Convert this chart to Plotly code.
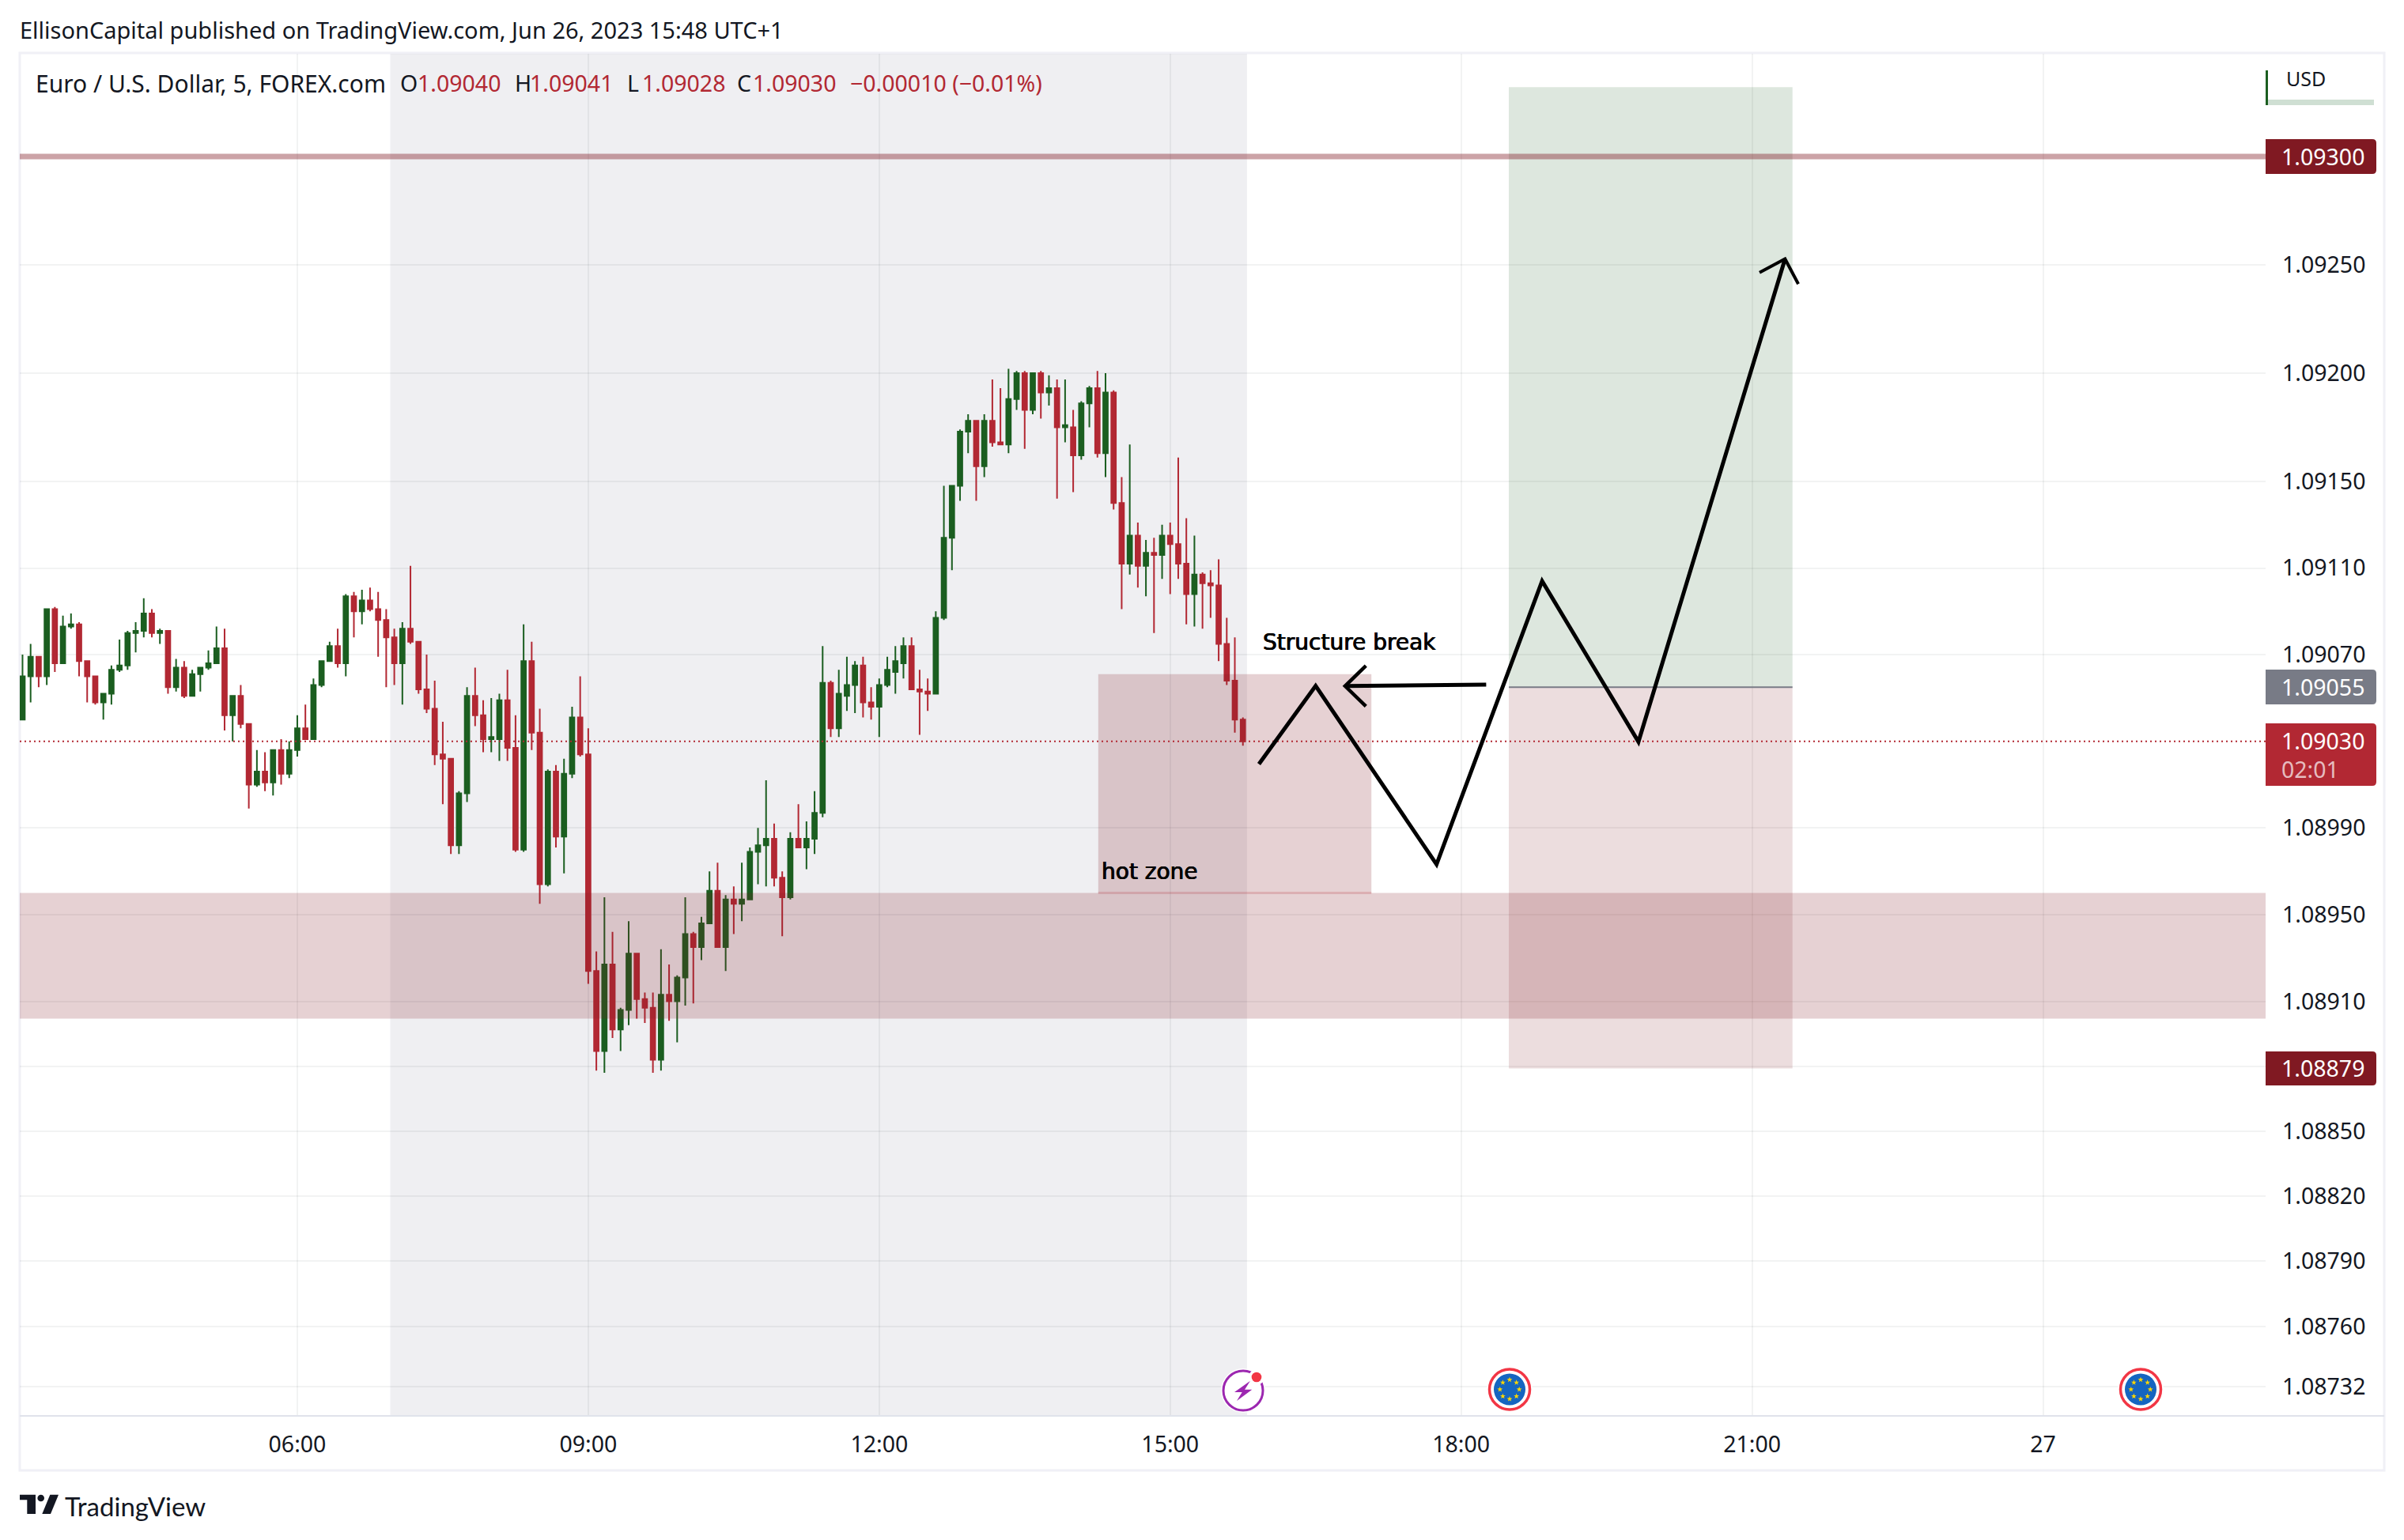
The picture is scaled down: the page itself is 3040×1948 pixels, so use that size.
import math
import plotly.graph_objects as go

# Prices in units of 0.00001 USD, one 5-minute bar each, first bar 03:10
BAR_START_MIN = 190
BAR_MIN = 5
open_pts = [109040,109060,109069,109060,109091,109066,109083,109084,109067,109060,
109048,109052,109063,109065,109080,109081,109089,109080,109081,109055,
109064,109051,109061,109064,109066,109073,109042,109051,109038,109010,
109016,109011,109026,109015,109026,109036,109031,109056,109067,109074,
109066,109097,109090,109095,109091,109086,109078,109066,109082,109076,
109054,109045,109024,109022,108982,109006,109051,109042,109031,109031,
109049,109027,108980,109067,109034,108964,109016,108986,109015,109041,
109024,108924,108887,108927,108897,108906,108932,108911,108907,108883,
108913,108910,108921,108941,108935,108946,108961,108935,108957,108955,
108957,108979,108982,108985,108967,108958,108985,108981,108985,108997,
109057,109036,109051,109056,109065,109048,109046,109056,109062,109066,
109074,109054,109053,109052,109087,109124,109148,109173,109178,109157,
109178,109168,109167,109188,109200,109183,109200,109191,109193,109175,
109175,109162,109186,109193,109163,109191,109140,109112,109125,109111,
109117,109116,109125,109121,109112,109098,109107,109103,109102,109075,
109058,109040]
high_pts = [109070,109075,109069,109091,109092,109088,109089,109085,109067,109060,
109052,109065,109077,109081,109085,109096,109091,109082,109081,109068,
109067,109063,109064,109072,109083,109082,109051,109056,109038,109026,
109025,109026,109031,109030,109042,109047,109059,109067,109076,109082,
109098,109099,109100,109101,109099,109091,109082,109085,109111,109076,
109070,109058,109039,109022,109007,109055,109064,109049,109050,109052,
109063,109042,109084,109076,109045,109017,109019,109022,109046,109060,
109036,108933,108958,108942,108907,108947,108932,108914,108914,108934,
108927,108922,108958,108942,108949,108970,108974,108959,108963,108974,
108981,108990,109012,108992,108970,108988,109001,108993,109007,109074,
109058,109063,109069,109067,109069,109055,109059,109069,109074,109078,
109078,109063,109059,109090,109148,109148,109174,109181,109178,109181,
109197,109193,109202,109201,109201,109200,109201,109199,109197,109197,
109183,109187,109194,109201,109200,109192,109152,109167,109131,109123,
109124,109130,109131,109161,109133,109125,109108,109109,109114,109087,
109078,109041]
low_pts = [109040,109048,109055,109056,109062,109066,109082,109060,109048,109047,
109040,109047,109062,109063,109071,109078,109078,109075,109052,109053,
109050,109051,109053,109063,109066,109035,109030,109036,108999,109009,
109007,109005,109010,109013,109023,109031,109031,109055,109067,109064,
109060,109078,109084,109090,109069,109055,109056,109047,109075,109052,
109043,109019,109001,108978,108978,109002,109037,109025,109025,109021,
109021,108979,108979,109026,108955,108963,108981,108969,109013,109023,
108918,108878,108877,108893,108887,108899,108902,108900,108877,108878,
108901,108891,108908,108909,108929,108946,108935,108924,108941,108947,
108957,108964,108963,108963,108940,108957,108981,108971,108978,108995,
109032,109032,109044,109043,109041,109040,109032,109055,109052,109059,
109054,109033,109044,109052,109086,109109,109141,109163,109141,109152,
109166,109167,109163,109183,109165,109181,109179,109185,109142,109168,
109145,109160,109175,109161,109152,109137,109091,109107,109101,109097,
109080,109105,109098,109105,109084,109083,109082,109087,109067,109056,
109034,109028]
close_pts = [109060,109069,109060,109091,109066,109083,109084,109067,109060,109048,
109052,109063,109065,109080,109081,109089,109080,109081,109055,109064,
109051,109061,109064,109066,109073,109042,109051,109038,109010,109016,
109011,109026,109015,109026,109036,109031,109056,109067,109074,109066,
109097,109090,109095,109091,109086,109078,109066,109082,109076,109054,
109045,109024,109022,108982,109006,109051,109042,109031,109032,109049,
109027,108980,109067,109034,108964,109016,108986,109015,109041,109024,
108924,108887,108927,108897,108906,108932,108911,108907,108883,108913,
108910,108921,108941,108935,108946,108961,108935,108957,108955,108957,
108979,108982,108985,108967,108958,108985,108981,108985,108997,109057,
109036,109052,109056,109065,109048,109046,109056,109063,109067,109074,
109054,109053,109052,109087,109124,109148,109173,109178,109157,109178,
109168,109167,109188,109200,109183,109200,109191,109193,109175,109176,
109162,109186,109193,109163,109191,109140,109112,109125,109111,109117,
109116,109125,109121,109112,109098,109107,109103,109102,109075,109058,
109040,109030]

price_ticks = [1.0925,1.092,1.0915,1.0911,1.0907,1.0899,1.0895,1.0891,1.0885,1.0882,1.0879,1.0876,1.08732]
price_grid_only = [1.0888]
time_ticks = [360,540,720,900,1080,1260,1440]
time_labels = ["06:00","09:00","12:00","15:00","18:00","21:00","27"]

# drawings: time in minutes since 00:00 of the first day, price in USD
session = (417.5, 947.5)
target_level = 1.09300
last_price = 1.09030
band = (1.08902, 1.08960)
hot_zone_time = (855.5, 1024.5)
hot_zone_price = (1.08960, 1.09061)
position_time = (1109.5, 1285)
position_top, position_entry, position_stop = 1.09332, 1.09055, 1.08879
path_time = [954.9, 990.0, 1064.8, 1130.1, 1189.7, 1280.4]
path_price = [1.090195, 1.090556, 1.089732, 1.09104, 1.090298, 1.092527]
head_time = [1264.6, 1280.4, 1288.6]
head_price = [1.092464, 1.092527, 1.092411]
break_time = [1095.5, 1008.2]
break_price = [1.090562, 1.090555]
break_head_time = [1021.1, 1008.2, 1021.1]
break_head_price = [1.090649, 1.090555, 1.090462]

L, R, T, B, W, H = 25, 2865, 68, 1791, 3040, 1948
RED, GREEN, MAROON, GREY, INK = "#B22833", "#1B5E20", "#801922", "#787B86", "#131722"
FONT = "Noto Sans"

def px(x): return (x - L) / (R - L)
def py(y): return 1 - (y - T) / (B - T)

def ppath(points, close=True):
    s = "M " + " L ".join(f"{px(a):.6f},{py(b):.6f}" for a, b in points)
    return s + (" Z" if close else "")

def data_path(xs, ys):
    return "M " + " L ".join(f"{a},{b}" for a, b in zip(xs, ys))

shapes, annotations = [], []

def rect_data(x0, x1, y0, y1, color, layer="above"):
    shapes.append(dict(type="rect", xref="x", yref="y", x0=x0, x1=x1, y0=y0, y1=y1,
                       fillcolor=color, line_width=0, layer=layer))

def hline_data(y, color, width, x0=None, x1=None, dash="solid"):
    d = dict(type="line", yref="y", y0=y, y1=y, line=dict(color=color, width=width, dash=dash), layer="above")
    if x0 is None:
        d.update(xref="paper", x0=0, x1=1)
    else:
        d.update(xref="x", x0=x0, x1=x1)
    shapes.append(d)

def text(s, x, y, size=28.5, color=INK, anchor="left", shadow=None, family=FONT):
    f = dict(size=size, color=color, family=family)
    if shadow:
        f["shadow"] = shadow
    annotations.append(dict(text=s, x=px(x), y=py(y), xref="paper", yref="paper", showarrow=False,
                            xanchor=anchor, yanchor="middle", font=f, borderpad=0, borderwidth=0))

def paper_rect(x0, y0, x1, y1, fill=None, line=None, lw=0, layer="above"):
    d = dict(type="rect", xref="paper", yref="paper", x0=px(x0), x1=px(x1), y0=py(y0), y1=py(y1),
             layer=layer, line=dict(width=lw, color=line) if lw else dict(width=0))
    if fill:
        d["fillcolor"] = fill
    shapes.append(d)

def paper_circle(cx, cy, r, fill=None, line=None, lw=0):
    d = dict(type="circle", xref="paper", yref="paper", x0=px(cx - r), x1=px(cx + r), y0=py(cy - r), y1=py(cy + r),
             layer="above", line=dict(width=lw, color=line) if lw else dict(width=0))
    if fill:
        d["fillcolor"] = fill
    shapes.append(d)

def paper_poly(points, fill):
    shapes.append(dict(type="path", xref="paper", yref="paper", path=ppath(points), fillcolor=fill,
                       line=dict(width=0), layer="above"))

def tag(y0, y1, color, r=5, x0=2865, x1=3005):
    path = (f"M {px(x0):.6f},{py(y0):.6f} L {px(x1 - r):.6f},{py(y0):.6f} "
            f"Q {px(x1):.6f},{py(y0):.6f} {px(x1):.6f},{py(y0 + r):.6f} "
            f"L {px(x1):.6f},{py(y1 - r):.6f} Q {px(x1):.6f},{py(y1):.6f} {px(x1 - r):.6f},{py(y1):.6f} "
            f"L {px(x0):.6f},{py(y1):.6f} Z")
    shapes.append(dict(type="path", xref="paper", yref="paper", path=path, fillcolor=color,
                       line=dict(width=0), layer="above"))

# session background, below the candles
rect_data(session[0], session[1], 1.0, 1.2, "rgba(110,118,140,0.115)", layer="below")

# zones, drawn over the candles
rect_data(position_time[0], position_time[1], position_entry, position_top, "rgba(27,94,32,0.15)")
rect_data(position_time[0], position_time[1], position_stop, position_entry, "rgba(128,25,34,0.15)")
hline_data(position_entry, GREY, 2, position_time[0], position_time[1])
rect_data(hot_zone_time[0], hot_zone_time[1], hot_zone_price[0], hot_zone_price[1], "rgba(128,25,34,0.2)")
hline_data(hot_zone_price[0], "rgba(178,40,51,0.2)", 3, hot_zone_time[0], hot_zone_time[1])
shapes.append(dict(type="rect", xref="paper", yref="y", x0=0, x1=1, y0=band[0], y1=band[1],
                   fillcolor="rgba(128,25,34,0.2)", line_width=0, layer="above"))
hline_data(target_level, "rgba(128,25,34,0.4)", 7)
hline_data(last_price, RED, 2, dash="2px,4px")

# hand drawn arrows
for xs, ys, w in [(path_time, path_price, 5), (head_time, head_price, 4),
                  (break_time, break_price, 5), (break_head_time, break_head_price, 4.5)]:
    shapes.append(dict(type="path", xref="x", yref="y", path=data_path(xs, ys), layer="above",
                       line=dict(color="#000000", width=w)))

# frame and time axis rule
paper_rect(25, 67, 3015, 1860, line="#F0F0F6", lw=3, layer="below")
paper_rect(25, 1790, 3015, 1792, fill="#E0E3EB")

# USD box
paper_rect(2868, 126, 3002, 133, fill="#CFDFD3")
paper_rect(2865, 89, 2868, 133, fill=GREEN)
text("USD", 2891, 99, size=25)

# price tags
tag(176, 220, MAROON)
text("1.09300", 2885, 198, color="#FFFFFF")
tag(847, 891, GREY)
text("1.09055", 2885, 869, color="#FFFFFF")
tag(915, 994, RED)
text("1.09030", 2885, 937, color="#FFFFFF")
text("02:01", 2885, 973, color="rgba(255,255,255,0.7)")
tag(1330, 1373, MAROON)
text("1.08879", 2885, 1351, color="#FFFFFF")

# event icons
def eu_flag(cx, cy):
    paper_circle(cx, cy, 29, fill="#FFFFFF")
    paper_circle(cx, cy, 25.5, fill="#FFFFFF", line="#F23645", lw=3.5)
    paper_circle(cx, cy, 20, fill="#1565C0")
    for k in range(8):
        a = math.radians(45 * k)
        sx, sy = cx + 12.2 * math.cos(a), cy + 12.2 * math.sin(a)
        pts = []
        for j in range(10):
            rr = 3.6 if j % 2 == 0 else 1.5
            b = math.radians(-90 + 36 * j)
            pts.append((sx + rr * math.cos(b), sy + rr * math.sin(b)))
        paper_poly(pts, "#FFD600")

eu_flag(1909, 1757.5)
eu_flag(2707, 1757.5)

paper_circle(1572, 1759, 28, fill="#FFFFFF")
paper_circle(1572, 1759, 25, fill="#FFFFFF", line="#9C27B0", lw=3)
paper_poly([(1581, 1746.7), (1561, 1761), (1570.7, 1761), (1564, 1772), (1583.3, 1757.7), (1574, 1757.7)], "#9C27B0")
paper_circle(1589, 1742, 10, fill="#FFFFFF")
paper_circle(1589, 1742, 6.3, fill="#F23645")

# logo
paper_poly([(25, 1890.7), (45, 1890.7), (45, 1915), (34.3, 1915), (34.3, 1897.3), (25, 1897.3)], INK)
paper_circle(51.7, 1895, 4.3, fill=INK)
paper_poly([(63.3, 1890.7), (74, 1890.7), (64, 1915), (53.3, 1915)], INK)
text("TradingView", 82, 1905, size=33, family="Lato")

# header
text("EllisonCapital published on TradingView.com, Jun 26, 2023 15:48 UTC+1", 25, 37, size=29)
text("Euro / U.S. Dollar, 5, FOREX.com", 45, 105, size=30)
for letter, lx, value, vx in [("O", 506, "1.09040", 528), ("H", 651, "1.09041", 670),
                              ("L", 793, "1.09028", 812), ("C", 932, "1.09030", 952)]:
    text(letter, lx, 105)
    text(value, vx, 105, color=RED)
text("\u22120.00010 (\u22120.01%)", 1075, 105, color=RED)

# chart notes
NOTE_SHADOW = "0.5px 0 0 #000000, -0.4px 0 0 #000000"
text("Structure break", 1597, 812, size=28, color="#000000", family="DejaVu Sans", shadow=NOTE_SHADOW)
text("hot zone", 1393, 1102, size=28, color="#000000", family="DejaVu Sans", shadow=NOTE_SHADOW)

bar_times = [BAR_START_MIN + BAR_MIN * i for i in range(len(open_pts))]
SCALE = 100000

fig = go.Figure(go.Candlestick(
    x=bar_times,
    open=[v / SCALE for v in open_pts],
    high=[v / SCALE for v in high_pts],
    low=[v / SCALE for v in low_pts],
    close=[v / SCALE for v in close_pts],
    increasing=dict(line=dict(color=GREEN, width=2), fillcolor=GREEN),
    decreasing=dict(line=dict(color=RED, width=2), fillcolor=RED),
    whiskerwidth=0,
    showlegend=False,
))

grid = "rgba(42,46,57,0.06)"
all_price_ticks = price_ticks + price_grid_only
fig.update_layout(
    width=W, height=H,
    margin=dict(l=L, r=W - R, t=T, b=H - B, pad=0),
    paper_bgcolor="#FFFFFF", plot_bgcolor="#FFFFFF",
    boxgap=0.2,
    font=dict(family=FONT, size=28.5, color=INK),
    showlegend=False,
    shapes=shapes,
    annotations=annotations,
    xaxis=dict(range=[188.3, 1577.7], tickvals=time_ticks, ticktext=time_labels,
               showgrid=True, gridcolor=grid, gridwidth=2, zeroline=False, showline=False,
               ticks="", rangeslider=dict(visible=False), tickfont=dict(size=28.5, color=INK, family=FONT),
               ticklabelstandoff=16),
    yaxis=dict(side="right", range=[1.087186, 1.093474], tickvals=all_price_ticks,
               ticktext=[f"{v:.5f}" for v in price_ticks] + [""] * len(price_grid_only),
               showgrid=True, gridcolor=grid, gridwidth=2, zeroline=False, showline=False,
               ticks="", tickfont=dict(size=28.5, color=INK, family=FONT), ticklabelstandoff=20),
)

fig.write_html("out.html", config=dict(displayModeBar=False),
               post_script="document.body.style.margin='0';document.body.style.overflow='hidden';")
